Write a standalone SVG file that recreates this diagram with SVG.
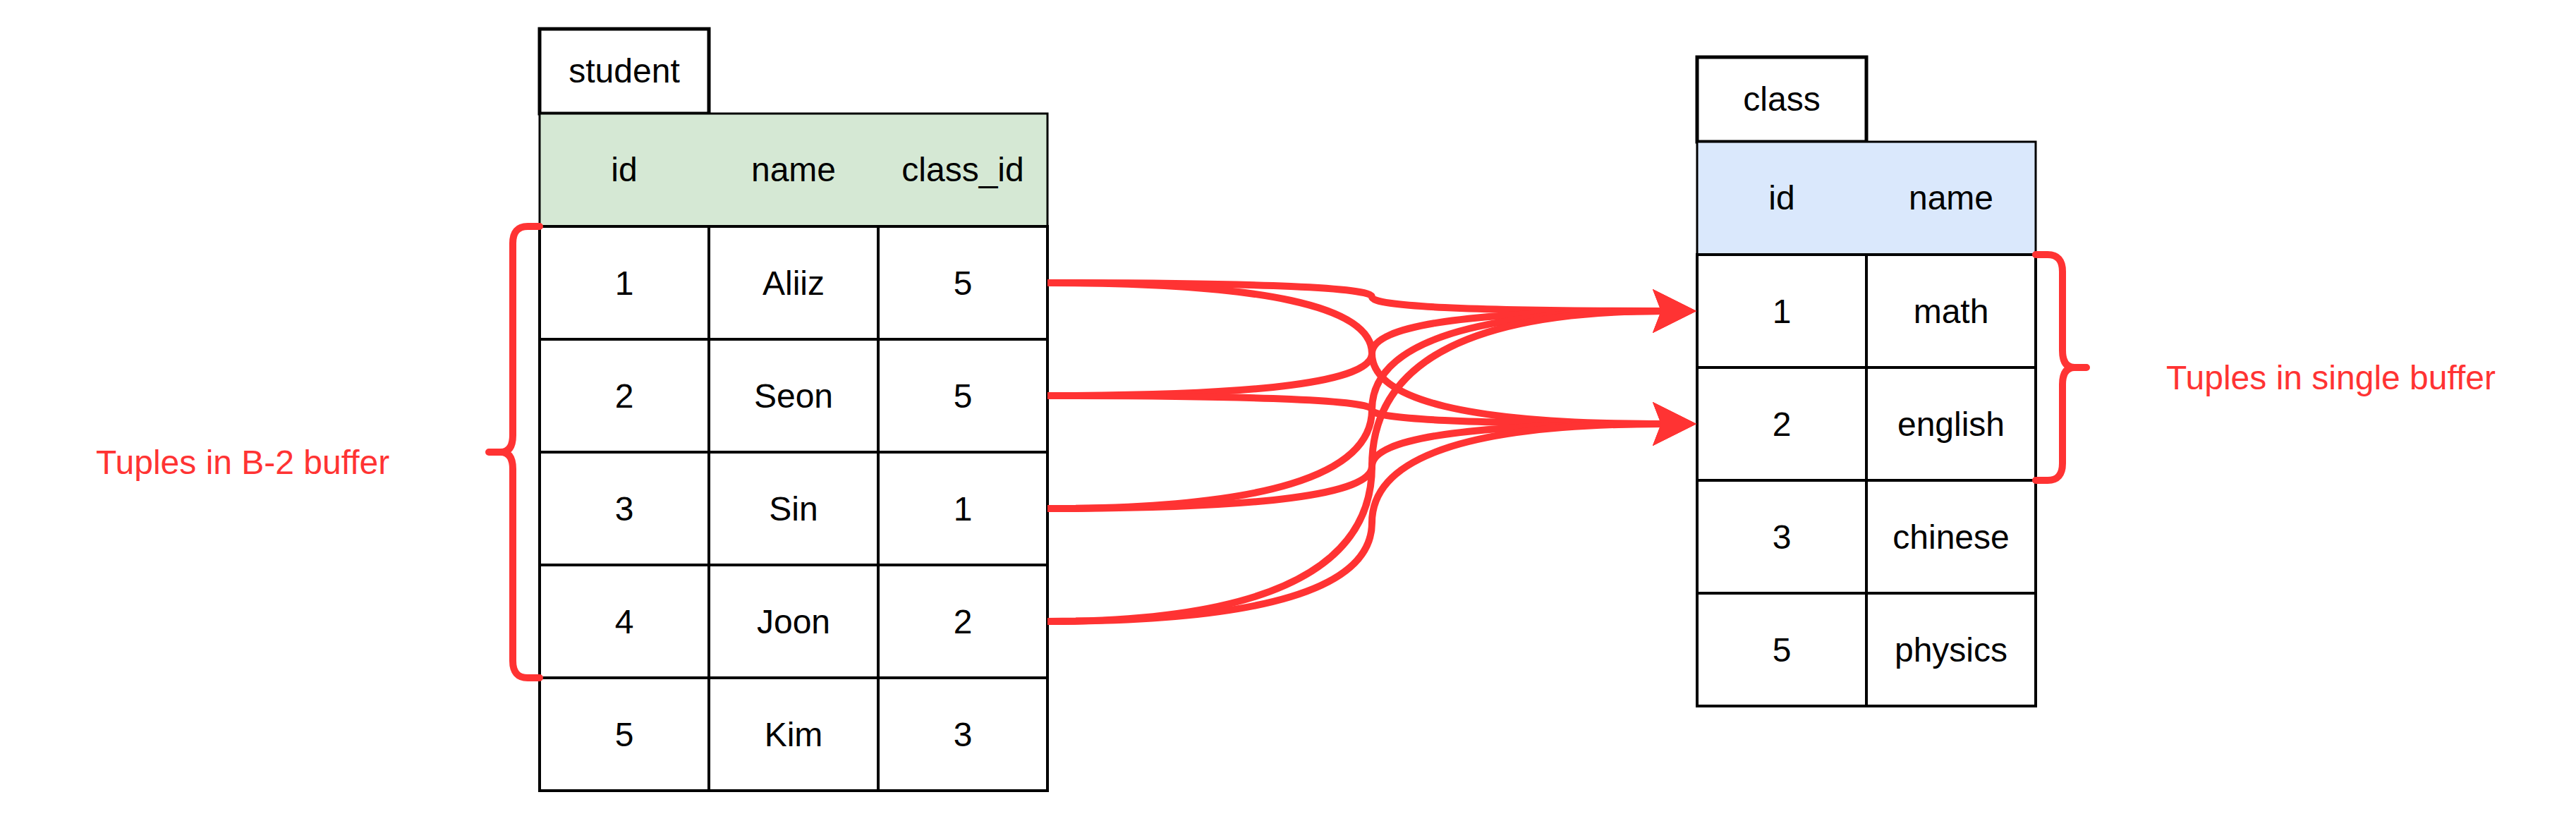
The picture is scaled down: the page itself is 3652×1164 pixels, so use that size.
<svg xmlns="http://www.w3.org/2000/svg" width="3652" height="1164" viewBox="0 0 3652 1164">
<style>
.t{font-family:"Liberation Sans",Arial,Helvetica,sans-serif;font-size:48px;fill:#000;text-anchor:middle}
.lbl{font-family:"Liberation Sans",Arial,Helvetica,sans-serif;font-size:48px;fill:#FF3333;text-anchor:start}
.cell{fill:#fff;stroke:#000;stroke-width:4}
.tab{fill:#fff;stroke:#000;stroke-width:5}
.gh{fill:#D5E8D4;stroke:#000;stroke-width:3}
.bh{fill:#DAE8FC;stroke:#000;stroke-width:3}
.ln{stroke:#000;stroke-width:4;fill:none}
.edge{fill:none;stroke:#FF3333;stroke-width:10}
.brace{fill:none;stroke:#FF3333;stroke-width:10;stroke-linecap:round;stroke-linejoin:round}
</style>
<defs>
<marker id="arr" viewBox="0 0 62 62" refX="14" refY="31" markerWidth="62" markerHeight="62" markerUnits="userSpaceOnUse" orient="auto">
<path d="M0,0 L62,31 L0,62 L12,31 Z" fill="#FF3333"/>
</marker>
</defs>
<rect width="3652" height="1164" fill="#fff"/>

<g id="student">
<rect class="tab" x="765" y="41" width="240" height="120"/>
<text class="t" x="885" y="117">student</text>
<rect class="gh" x="765" y="161" width="720" height="160"/>
<text class="t" x="885" y="257">id</text>
<text class="t" x="1125" y="257">name</text>
<text class="t" x="1365" y="257">class_id</text>
<rect class="cell" x="765" y="321" width="720" height="800"/>
<path class="ln" d="M765,481H1485M765,641H1485M765,801H1485M765,961H1485M1005,321V1121M1245,321V1121"/>
<text class="t" x="885" y="418">1</text><text class="t" x="1125" y="418">Aliiz</text><text class="t" x="1365" y="418">5</text>
<text class="t" x="885" y="578">2</text><text class="t" x="1125" y="578">Seon</text><text class="t" x="1365" y="578">5</text>
<text class="t" x="885" y="738">3</text><text class="t" x="1125" y="738">Sin</text><text class="t" x="1365" y="738">1</text>
<text class="t" x="885" y="898">4</text><text class="t" x="1125" y="898">Joon</text><text class="t" x="1365" y="898">2</text>
<text class="t" x="885" y="1058">5</text><text class="t" x="1125" y="1058">Kim</text><text class="t" x="1365" y="1058">3</text>
</g>

<g id="class">
<rect class="tab" x="2406" y="81" width="240" height="120"/>
<text class="t" x="2526" y="157">class</text>
<rect class="bh" x="2406" y="201" width="480" height="160"/>
<text class="t" x="2526" y="297">id</text>
<text class="t" x="2766" y="297">name</text>
<rect class="cell" x="2406" y="361" width="480" height="640"/>
<path class="ln" d="M2406,521H2886M2406,681H2886M2406,841H2886M2646,361V1001"/>
<text class="t" x="2526" y="458">1</text><text class="t" x="2766" y="458">math</text>
<text class="t" x="2526" y="618">2</text><text class="t" x="2766" y="618">english</text>
<text class="t" x="2526" y="778">3</text><text class="t" x="2766" y="778">chinese</text>
<text class="t" x="2526" y="938">5</text><text class="t" x="2766" y="938">physics</text>
</g>

<g id="brace-left">
<path class="brace" d="M765,321H748Q727,321 727,345V617Q727,641 710,641H693M710,641Q727,641 727,665V937Q727,961 748,961H765"/>
<text class="lbl" x="136" y="672">Tuples in B-2 buffer</text>
</g>

<g id="brace-right">
<path class="brace" d="M2886,361H2903Q2924,361 2924,385V497Q2924,521 2941,521H2958M2941,521Q2924,521 2924,545V657Q2924,681 2903,681H2886"/>
<text class="lbl" x="3071" y="552">Tuples in single buffer</text>
</g>

<g id="connectors">
<path class="edge" marker-end="url(#arr)" d="M1485,401Q1945,401 1945,421Q1945,441 2357,441"/>
<path class="edge" marker-end="url(#arr)" d="M1485,401Q1945,401 1945,501Q1945,601 2357,601"/>
<path class="edge" marker-end="url(#arr)" d="M1485,561Q1945,561 1945,501Q1945,441 2357,441"/>
<path class="edge" marker-end="url(#arr)" d="M1485,561Q1945,561 1945,581Q1945,601 2357,601"/>
<path class="edge" marker-end="url(#arr)" d="M1485,721Q1945,721 1945,581Q1945,441 2357,441"/>
<path class="edge" marker-end="url(#arr)" d="M1485,721Q1945,721 1945,661Q1945,601 2357,601"/>
<path class="edge" marker-end="url(#arr)" d="M1485,881Q1945,881 1945,661Q1945,441 2357,441"/>
<path class="edge" marker-end="url(#arr)" d="M1485,881Q1945,881 1945,741Q1945,601 2357,601"/>
</g>
</svg>
